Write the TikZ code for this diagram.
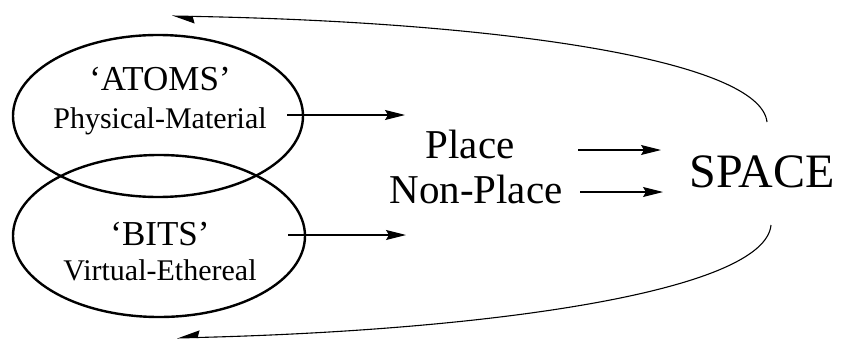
\documentclass[tikz,border=0pt]{standalone}
\usepackage{fontspec}
\setmainfont{Liberation Serif}
\usetikzlibrary{arrows.meta}
\begin{document}
\begin{tikzpicture}[x=1pt,y=-1pt,
  oval/.style={draw, line width=2.4pt},
  lbl/.style={anchor=base, inner sep=0pt},
  flow/.style={line width=1.1pt, -{Stealth[length=20pt,width=10pt,inset=3pt]}},
  loop/.style={line width=1.1pt},
]
\useasboundingbox (0,0) rectangle (841,340);
% ellipses
\draw[oval] (158,116) ellipse [x radius=145, y radius=81];
\draw[oval] (159,236) ellipse [x radius=146, y radius=81];
% texts
\node[lbl, font=\fontsize{35}{40}\selectfont] (atoms) at (160,90) {‘ATOMS’};
\node[lbl, font=\fontsize{30}{36}\selectfont] (phys) at (160,128) {Physical-Material};
\node[lbl, font=\fontsize{35}{40}\selectfont] (bits) at (160,245) {‘BITS’};
\node[lbl, font=\fontsize{30}{36}\selectfont] (virt) at (160,280) {Virtual-Ethereal};
\node[lbl, font=\fontsize{41}{46}\selectfont] (place) at (470,158) {Place};
\node[lbl, font=\fontsize{41}{46}\selectfont] (nonplace) at (476,203) {Non-Place};
\node[lbl, font=\fontsize{48}{54}\selectfont] (space) at (762,187) {SPACE};
% arrow end points
\coordinate (a1s) at (287,115);
\coordinate (a1e) at (405,115);
\coordinate (a2s) at (288,235);
\coordinate (a2e) at (406,235);
\coordinate (a3s) at (578,150);
\coordinate (a3e) at (661,150);
\coordinate (a4s) at (580,192);
\coordinate (a4e) at (663,192);
\coordinate (c1s) at (767,122);
\coordinate (c1e) at (172,16);
\coordinate (c2s) at (771,225);
\coordinate (c2e) at (177,338);
\draw[flow] (a1s) -- (a1e);
\draw[flow] (a2s) -- (a2e);
\draw[flow] (a3s) -- (a3e);
\draw[flow] (a4s) -- (a4e);
\draw[loop, -{Stealth[harpoon,length=21pt,width=14pt,inset=2pt]}]
  (c1s) .. controls (760,60) and (500,22) .. (c1e);
\draw[loop, -{Stealth[harpoon,swap,length=21pt,width=14pt,inset=2pt]}]
  (c2s) .. controls (765,290) and (500,330) .. (c2e);
\end{tikzpicture}
\end{document}
